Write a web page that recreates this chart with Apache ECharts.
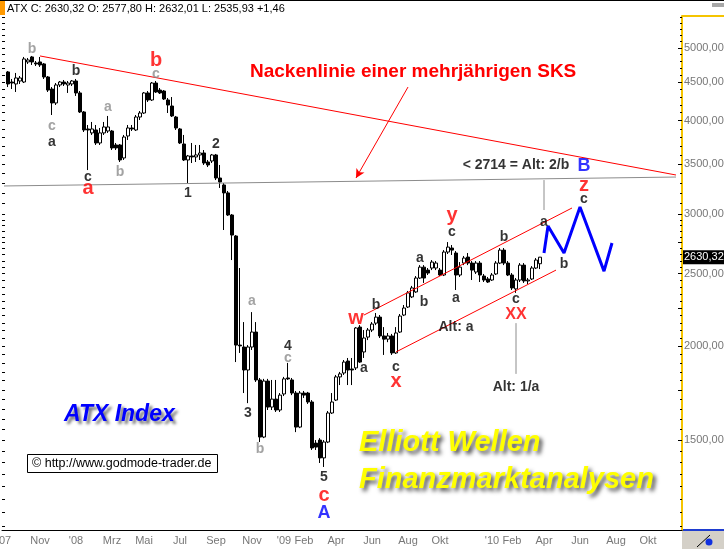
<!DOCTYPE html>
<html><head><meta charset="utf-8">
<script src="https://cdn.jsdelivr.net/npm/echarts@6/dist/echarts.min.js"></script>
<style>html,body{margin:0;padding:0;background:#fff}#c{width:724px;height:549px}</style>
</head><body><div id="c"></div><script>
const FONT = 'Arial, "Liberation Sans", sans-serif';

// weekly categories (Fridays)
const firstFriday = '2007-08-31';
const weekCount = 170;
const candleStart = '2007-09-07';

// weekly candles: [open, close, low, high]
const candles = [
[4645,4477,4435,4659],[4504,4490,4408,4546],[4477,4560,4368,4631],[4518,4560,4477,4588],[4504,4834,4490,4864],
[4790,4819,4761,4849],[4864,4790,4746,4879],[4775,4761,4731,4804],[4790,4746,4717,4864],[4761,4574,4546,4775],
[4574,4394,4368,4588],[4408,4223,4070,4435],[4223,4463,4197,4490],[4463,4504,4435,4518],[4504,4477,4449,4532],
[4463,4490,4355,4518],[4477,4518,4449,4532],[4518,4355,4315,4546],[4355,4108,4095,4381],[4108,3887,3863,4120],
[3899,3887,3437,3947],[3852,3899,3828,3984],[3887,3735,3712,3947],[3735,3852,3712,3911],[3852,3923,3828,3984],
[3875,3923,3852,4058],[3875,3678,3655,3887],[3712,3678,3655,3735],[3712,3545,3523,3723],[3567,3804,3545,3828],
[3816,3911,3769,3947],[3911,3899,3875,3947],[3887,4045,3875,4070],[4045,4095,4008,4120],[4095,4355,4083,4368],
[4355,4262,4236,4381],[4262,4490,4249,4504],[4490,4368,4355,4518],[4394,4355,4341,4422],[4381,4275,4262,4394],
[4262,4197,4095,4288],[4184,4058,4045,4301],[4045,3911,3887,4058],[3899,3735,3723,3911],[3723,3545,3534,3828],
[3545,3589,3303,3600],[3589,3578,3512,3735],[3578,3600,3523,3712],[3600,3622,3545,3712],[3622,3512,3491,3655],
[3523,3491,3469,3545],[3534,3600,3512,3611],[3600,3354,3333,3611],[3354,3313,3253,3491],[3283,3204,2859,3303],
[3204,2994,2985,3223],[2994,2815,2607,3003],[2807,2008,1906,2815],[2008,2003,1960,2544],[1996,1860,1733,2155],
[1860,1996,1680,2008],[1996,2090,1978,2222],[2090,1804,1793,2155],[1804,1514,1491,1815],[1514,1798,1509,1810],
[1798,1660,1645,1810],[1660,1701,1645,1804],[1701,1645,1635,1804],[1645,1722,1635,1733],[1728,1810,1717,1821],
[1815,1810,1804,1901],[1804,1733,1722,1815],[1733,1561,1537,1744],[1561,1733,1556,1744],[1733,1722,1707,1744],
[1733,1686,1676,1739],[1686,1464,1455,1696],[1486,1468,1455,1500],[1500,1420,1398,1509],[1420,1491,1381,1500],
[1491,1630,1486,1640],[1630,1686,1625,1733],[1696,1821,1691,1832],[1821,1838,1776,1849],[1843,1906,1832,1918],
[1912,1860,1776,1930],[1866,1860,1776,1930],[1872,2116,1860,2122],[2122,1906,1901,2135],[1966,2052,1930,2103],
[2058,2103,2039,2116],[2103,2142,2090,2155],[2148,2188,2135,2216],[2188,2065,2052,2202],[2065,2045,1948,2122],
[2045,2065,2026,2084],[2065,1960,1948,2078],[1960,2084,1954,2122],[2090,2195,2084,2209],[2202,2250,2195,2271],
[2257,2357,2250,2371],[2328,2393,2320,2408],[2364,2467,2357,2482],[2467,2551,2460,2567],[2551,2467,2430,2567],
[2528,2505,2490,2544],[2544,2591,2528,2607],[2544,2583,2528,2599],[2528,2490,2482,2544],[2490,2672,2482,2688],
[2672,2713,2656,2755],[2705,2688,2648,2730],[2664,2490,2378,2680],[2490,2551,2475,2591],[2583,2623,2567,2640],
[2631,2583,2567,2664],[2583,2528,2452,2599],[2513,2583,2498,2599],[2583,2490,2437,2599],[2482,2452,2437,2498],
[2460,2437,2430,2475],[2452,2490,2445,2505],[2498,2583,2490,2599],[2583,2688,2575,2705],[2688,2583,2567,2705],
[2583,2490,2482,2599],[2490,2393,2378,2505],[2386,2452,2357,2467],[2452,2567,2437,2583],[2567,2445,2430,2583],
[2445,2452,2422,2467],[2460,2544,2452,2559],[2544,2607,2536,2623],[2577.80,2630.32,2535.93,2632.01]
];
const lastQuote = {open: 2577.80, high: 2632.01, low: 2535.93, close: 2630.32, change: '+1,46'};

// axis tick labels
const xTickLabels = {
  '2007-08-31': "'07", '2007-11-02': 'Nov', '2008-01-04': "'08", '2008-03-07': 'Mrz', '2008-05-02': 'Mai',
  '2008-07-04': 'Jul', '2008-09-05': 'Sep', '2008-11-07': 'Nov', '2009-01-02': "'09", '2009-02-06': 'Feb',
  '2009-04-03': 'Apr', '2009-06-05': 'Jun', '2009-08-07': 'Aug', '2009-10-02': 'Okt', '2010-01-01': "'10",
  '2010-02-05': 'Feb', '2010-04-02': 'Apr', '2010-06-04': 'Jun', '2010-08-06': 'Aug', '2010-10-01': 'Okt'
};
const yTickLabels = [1500, 2000, 2500, 3000, 3500, 4000, 4500, 5000];
const yMidTicks = [1750, 2250, 2750];
const yRange = [1138, 5516];

// drawn lines (date, value)
const neckline = [['2007-11-02', 4879], ['2010-11-19', 3385]];
const supportLine = [['2007-08-31', 3273], ['2010-11-19', 3364]];
const channelUpper = [['2009-05-22', 2202], ['2010-05-21', 3059]];
const channelLower = [['2009-07-17', 1966], ['2010-04-23', 2528]];
const projection = [['2010-04-02', 2664], ['2010-04-09', 2895], ['2010-05-07', 2664], ['2010-06-04', 3068], ['2010-07-16', 2520], ['2010-07-30', 2747]];
const pointerA = [['2010-04-02', 3333], ['2010-04-02', 3040]];
const pointerB = [['2010-02-12', 2148], ['2010-02-12', 1838]];
const arrowLine = [['2009-08-07', 4435], ['2009-05-08', 3354]];

// wave labels (date, value, text)
const greyLabels = [
 ['2007-10-19',4984,'b'],['2008-05-23',4617,'c'],['2008-02-29',4171,'a'],['2007-11-23',3935,'c'],
 ['2008-03-21',3416,'b'],['2008-11-07',2299,'a'],['2008-11-21',1459,'b'],['2009-01-09',1930,'c']
];
const blackLabels = [
 ['2008-01-04',4659,'b'],['2007-11-23',3746,'a'],['2008-01-25',3364,'c'],['2008-09-05',3723,'2'],
 ['2008-07-18',3204,'1'],['2008-10-31',1630,'3'],['2009-01-09',2003,'4'],['2009-03-13',1339,'5'],
 ['2009-06-12',2271,'b'],['2009-05-22',1872,'a'],['2009-07-17',1878,'c'],['2009-09-04',2292,'b'],
 ['2009-08-28',2623,'a'],['2009-10-23',2842,'c'],['2009-10-30',2320,'a'],['2010-04-02',2930,'a'],
 ['2010-06-11',3145,'c'],['2010-05-07',2575,'b'],['2010-01-22',2798,'b'],['2010-02-12',2313,'c']
];
const redLabels = [
 ['2008-05-23',4819,'b'],['2008-01-25',3243,'a'],['2009-05-08',2181,'w'],['2009-07-17',1798,'x'],
 ['2009-10-23',2994,'y'],['2010-06-11',3273,'z'],['2009-03-13',1267,'c']
];
const redSmallLabels = [['2010-02-12',2202,'XX']];
const blueLabels = [['2009-03-13',1199,'A'],['2010-06-11',3480,'B']];
const noteLabels = [['2009-10-30',2122,'Alt: a'],['2010-02-12',1765,'Alt: 1/a'],['2010-02-12',3491,'< 2714 = Alt: 2/b']];

// ---------- build ----------
const weeks = [];
const base = Date.parse(firstFriday + 'T00:00:00Z');
for (let i = 0; i < weekCount; i++) weeks.push(new Date(base + i * 7 * 864e5).toISOString().slice(0, 10));
const off = weeks.indexOf(candleStart);
const candleData = weeks.map((w, i) => { const c = candles[i - off]; return c ? c.map(Math.log) : '-'; });
const fmt = v => v.toFixed(2).replace('.', ',');
const L = Math.log;

const ySteps = [];
for (let v = 1150; v < 3000; v += 50) ySteps.push(v);
for (let v = 3000; v <= 5500; v += 100) ySteps.push(v);
const yMinor = ySteps.filter(v => yTickLabels.indexOf(v) < 0 && yMidTicks.indexOf(v) < 0);
const yMajor = yTickLabels.concat(yMidTicks);

function yAx(extra) {
  return Object.assign({
    type: 'value', min: L(yRange[0]), max: L(yRange[1]), splitLine: {show: false}, splitArea: {show: false},
    axisLine: {show: false, onZero: false}, axisLabel: {show: false}, axisTick: {show: false}
  }, extra);
}

function labelSeries(list, color, size, family) {
  return {
    type: 'scatter', silent: true, z: 10, symbolSize: 1, itemStyle: {color: 'transparent'},
    data: list.map(d => ({name: d[2], value: [d[0], L(d[1])]})),
    label: {show: true, position: 'inside', formatter: '{b}', color: color, fontSize: size,
            fontWeight: 'bold', fontFamily: family || FONT}
  };
}
function lineSeries(pts, color, width, z) {
  return {type: 'line', silent: true, z: z || 4, symbol: 'none', animation: false,
          data: pts.map(p => [p[0], L(p[1])]), lineStyle: {color: color, width: width}};
}

const chart = echarts.init(document.getElementById('c'), null, {renderer: 'canvas'});
chart.setOption({
  animation: false,
  backgroundColor: '#fff',
  grid: {left: 2, right: 42, top: 16, bottom: 19, containLabel: false, outerBoundsMode: 'none'},
  xAxis: {
    type: 'category', data: weeks, boundaryGap: true,
    axisLine: {onZero: false, lineStyle: {color: '#000', width: 1}},
    axisTick: {show: false}, splitLine: {show: false},
    axisLabel: {
      interval: (idx, val) => xTickLabels[val] !== undefined,
      formatter: val => xTickLabels[val] || '',
      color: '#777', fontSize: 11, fontFamily: FONT, margin: 5
    }
  },
  yAxis: [
    yAx({position: 'right',
      axisLine: {show: true, onZero: false, lineStyle: {color: '#f5c400', width: 2}},
      axisLabel: {show: true, customValues: yTickLabels.map(L), formatter: v => fmt(Math.exp(v)),
                  color: '#777', fontSize: 11, fontFamily: FONT, margin: 2},
      axisTick: {show: true, inside: true, length: 4, customValues: yMajor.map(L), lineStyle: {color: '#000'}}}),
    yAx({position: 'right',
      axisTick: {show: true, inside: true, length: 2, customValues: yMinor.map(L), lineStyle: {color: '#000'}}}),
    yAx({position: 'right', z: 20,
      axisLabel: {show: true, customValues: [L(lastQuote.close)], formatter: v => fmt(Math.exp(v)),
                  color: '#fff', backgroundColor: '#000', padding: [2, 1, 1, 1], fontSize: 11,
                  fontFamily: FONT, margin: 1}}),
    yAx({position: 'left',
      axisTick: {show: true, inside: true, length: 3, customValues: yMajor.concat(yMinor).map(L),
                 lineStyle: {color: '#000'}}})
  ],
  series: [
    {
      type: 'candlestick', data: candleData, barWidth: 3, z: 2, silent: true,
      itemStyle: {color: '#fff', color0: '#000', borderColor: '#000', borderColor0: '#000', borderWidth: 1},
      markLine: {
        silent: true, symbol: ['none', 'arrow'], symbolSize: [7, 9],
        lineStyle: {color: '#ff0000', width: 1, type: 'solid'}, label: {show: false},
        data: [[{coord: [arrowLine[0][0], L(arrowLine[0][1])]}, {coord: [arrowLine[1][0], L(arrowLine[1][1])]}]]
      }
    },
    lineSeries(supportLine, '#8c8c8c', 1, 3),
    lineSeries(neckline, '#ff0000', 1, 4),
    lineSeries(channelUpper, '#ff0000', 1, 4),
    lineSeries(channelLower, '#ff0000', 1, 4),
    lineSeries(pointerA, '#8c8c8c', 1, 4),
    lineSeries(pointerB, '#8c8c8c', 1, 4),
    lineSeries(projection, '#0000ff', 3, 6),
    labelSeries(greyLabels, '#8c8c8c', 14),
    labelSeries(blackLabels, '#000', 14),
    labelSeries(redLabels, '#ff0000', 20),
    labelSeries(redSmallLabels, '#ff0000', 16),
    labelSeries(blueLabels, '#0000ff', 18),
    labelSeries(noteLabels, '#000', 14)
  ],
  graphic: [
    {type: 'rect', shape: {x: 0, y: 0, width: 724, height: 1}, style: {fill: '#000'}},
    {type: 'rect', shape: {x: 0, y: 1, width: 5, height: 14}, style: {fill: '#ff9900'}},
    {type: 'text', x: 7, y: 3, style: {text: 'ATX C: ' + fmt(lastQuote.close) + ' O: ' + fmt(lastQuote.open) +
      ' H: ' + fmt(lastQuote.high) + ' L: ' + fmt(lastQuote.low) + ' ' + lastQuote.change,
      fill: '#000', font: '11px ' + FONT}},
    {type: 'rect', shape: {x: 712, y: 3, width: 12, height: 4}, style: {fill: '#a8a8a8'}},
    {type: 'rect', shape: {x: 682, y: 15, width: 42, height: 2}, style: {fill: '#f5c400'}},
    {type: 'rect', shape: {x: 682, y: 529, width: 42, height: 2}, style: {fill: '#1e3cd0'}},
    {type: 'rect', shape: {x: 682, y: 531, width: 42, height: 18}, style: {fill: '#d4d0c8'}},
    {type: 'line', shape: {x1: 697, y1: 547, x2: 710, y2: 535}, style: {stroke: '#000', lineWidth: 1}},
    {type: 'circle', shape: {cx: 709, cy: 542, r: 3.5}, style: {fill: '#1030e0'}},
    {type: 'text', x: 250, y: 72, style: {text: 'Nackenlinie einer mehrjährigen SKS', fill: '#ff0000',
      font: 'bold 19px ' + FONT, verticalAlign: 'middle', textVerticalAlign: 'middle'}},
    {type: 'text', x: 64, y: 415, style: {text: 'ATX Index', fill: '#0000ff', font: 'italic bold 23px ' + FONT,
      verticalAlign: 'middle', textVerticalAlign: 'middle',
      textShadowColor: 'rgba(0,0,0,0.55)', textShadowBlur: 3, textShadowOffsetX: 3, textShadowOffsetY: 3}},
    {type: 'text', x: 359, y: 443, style: {text: 'Elliott Wellen', fill: '#ffff00', font: 'italic bold 29px ' + FONT,
      verticalAlign: 'middle', textVerticalAlign: 'middle',
      textShadowColor: 'rgba(0,0,0,0.7)', textShadowBlur: 4, textShadowOffsetX: 3, textShadowOffsetY: 3}},
    {type: 'text', x: 359, y: 480, style: {text: 'Finanzmarktanalysen', fill: '#ffff00', font: 'italic bold 29px ' + FONT,
      verticalAlign: 'middle', textVerticalAlign: 'middle',
      textShadowColor: 'rgba(0,0,0,0.7)', textShadowBlur: 4, textShadowOffsetX: 3, textShadowOffsetY: 3}},
    {type: 'rect', shape: {x: 27.5, y: 454.5, width: 190, height: 18}, style: {fill: '#fff', stroke: '#000', lineWidth: 1}},
    {type: 'text', x: 32, y: 464, style: {text: '\u00a9 http://www.godmode-trader.de', fill: '#000',
      font: '12.5px ' + FONT, verticalAlign: 'middle', textVerticalAlign: 'middle'}}
  ]
});
</script></body></html>
